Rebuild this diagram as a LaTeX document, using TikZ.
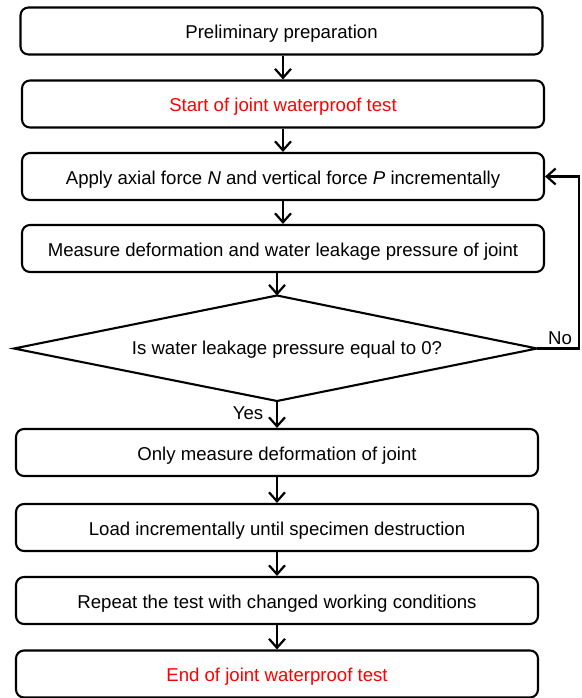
\documentclass[tikz,border=0pt]{standalone}
\usepackage{fontspec}
\setmainfont{Liberation Sans}
\usetikzlibrary{arrows.meta}
\definecolor{redtxt}{RGB}{255,0,0}
\begin{document}
\begin{tikzpicture}[x=1pt,y=-1pt,
  font=\fontsize{18.6}{22}\selectfont,
  box/.style={draw, line width=2.1pt, rounded corners=8pt, inner sep=0pt, minimum width=522pt, minimum height=47pt, text height=17pt, text depth=2pt},
  arr/.style={line width=2.2pt, -{Straight Barb[length=9pt,width=16pt,line width=2.2pt]}},
  lbl/.style={inner sep=0pt}
]
\useasboundingbox (0,0) rectangle (581,698);
\node[box] (b1) at (281.5,31) {Preliminary preparation};
\node[box, text=redtxt] (b2) at (283,104) {Start of joint waterproof test};
\node[box] (b3) at (283,176.5) {Apply axial force \textit{N} and vertical force \textit{P} incrementally};
\node[box] (b4) at (283,248.5) {Measure deformation and water leakage pressure of joint};
\coordinate (dT) at (277,295.5);
\coordinate (dB) at (277,401);
\coordinate (dL) at (14,348.5);
\coordinate (dR) at (537,348.5);
\draw[line width=2.1pt, line join=miter] (dT) -- (dR) -- (dB) -- (dL) -- cycle;
\node[lbl] (dq) at (287,350) {Is water leakage pressure equal to 0?};
\node[box] (b5) at (277,452.5) {Only measure deformation of joint};
\node[box] (b6) at (277,527.5) {Load incrementally until specimen destruction};
\node[box] (b7) at (277,600.5) {Repeat the test with changed working conditions};
\node[box, text=redtxt] (b8) at (277,674) {End of joint waterproof test};
\coordinate (xa) at (283,0);
\coordinate (xb) at (277,0);
\draw[arr] (b1.south -| xa) -- (b2.north -| xa);
\draw[arr] (b2.south -| xa) -- (b3.north -| xa);
\draw[arr] (b3.south -| xa) -- (b4.north -| xa);
\draw[arr] (b4.south -| xb) -- (dT);
\draw[arr] (dB) -- (b5.north -| xb);
\draw[arr] (b5.south -| xb) -- (b6.north -| xb);
\draw[arr] (b6.south -| xb) -- (b7.north -| xb);
\draw[arr] (b7.south -| xb) -- (b8.north -| xb);
\draw[arr] (dR) -- ++(42,0) |- (b3.east);
\node[lbl] (no) at (560,338) {No};
\node[lbl] (yes) at (248,413) {Yes};
\end{tikzpicture}
\end{document}
